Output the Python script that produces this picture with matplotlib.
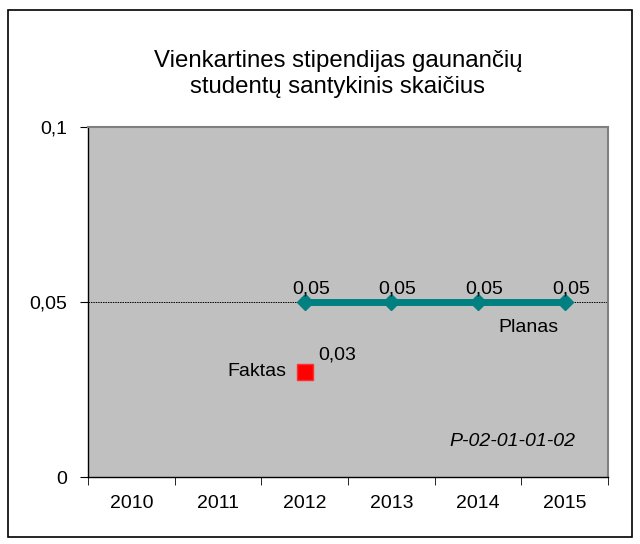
import matplotlib
matplotlib.use('Agg')
import matplotlib.pyplot as plt
from matplotlib.patches import Rectangle

plt.rcParams['font.family'] = ['Liberation Sans', 'DejaVu Sans']

years = ["2010", "2011", "2012", "2013", "2014", "2015"]
plan_years = ["2012", "2013", "2014", "2015"]
plan_values = [0.05, 0.05, 0.05, 0.05]
fact_years = ["2012"]
fact_values = [0.03]
y_ticks = [0, 0.05, 0.1]
y_labels = ["0", "0,05", "0,1"]

fig = plt.figure(figsize=(6.4, 5.44), dpi=100)
fig.patches.append(Rectangle((8 / 640, 7 / 544), 624 / 640, 527 / 544,
                             transform=fig.transFigure, fill=False,
                             edgecolor='black', linewidth=1.2))
ax = fig.add_axes([88 / 640, 1 - 477 / 544, 520 / 640, 350 / 544])
ax.set_facecolor('#C0C0C0')

xpos = {y: i for i, y in enumerate(years)}
px = [xpos[y] for y in plan_years]
fx = [xpos[y] for y in fact_years]

ax.axhline(0.05, color='black', linestyle=(0, (1.5, 1)), linewidth=0.7, zorder=1)
ax.plot(px, plan_values, color='#008080', linewidth=5, marker='D',
        markersize=8.5, zorder=3)
ax.plot(fx, fact_values, color='#FF0000', marker='s', markersize=11,
        linestyle='none', markeredgecolor='#FF3030', zorder=3)

for x, v in zip(px, plan_values):
    ax.annotate(f"{v:.2f}".replace('.', ','), (x, v), xytext=(4.5, 3),
                textcoords='offset points', ha='center', va='bottom', fontsize=14)
for x, v in zip(fx, fact_values):
    ax.annotate(f"{v:.2f}".replace('.', ','), (x, v), xytext=(9.5, 6),
                textcoords='offset points', ha='left', va='bottom', fontsize=14)
    ax.annotate("Faktas", (x, v), xytext=(-13, 0), textcoords='offset points',
                ha='right', va='center', fontsize=14)
ax.annotate("Planas", (px[-1], plan_values[-1]), xytext=(-26, -12),
            textcoords='offset points', ha='center', va='top', fontsize=14)
ax.text(0.937, 0.1, "P-02-01-01-02", transform=ax.transAxes, ha='right',
        va='center', fontsize=14, style='italic')

ax.set_xlim(-0.5, len(years) - 0.5)
ax.set_ylim(0, 0.1)
ax.set_yticks(y_ticks)
ax.set_yticklabels(y_labels, fontsize=14)
ax.set_xticks(range(len(years)))
ax.set_xticklabels(years, fontsize=14)
ax.set_xticks([i - 0.5 for i in range(len(years) + 1)], minor=True)
ax.tick_params(axis='x', which='major', length=0, pad=13)
ax.tick_params(axis='x', which='minor', length=6, direction='out')
ax.tick_params(axis='y', length=6, direction='out', pad=9)

for side in ['left', 'bottom']:
    ax.spines[side].set_color('black')
    ax.spines[side].set_linewidth(1.0)
for side in ['top', 'right']:
    ax.spines[side].set_color('#808080')
    ax.spines[side].set_linewidth(1.5)

fig.text(338 / 640, 1 - 74 / 544,
         "Vienkartines stipendijas gaunančių\nstudentų santykinis skaičius",
         ha='center', va='center', fontsize=17.3, linespacing=1.2)

fig.savefig("out.png", dpi=100)
